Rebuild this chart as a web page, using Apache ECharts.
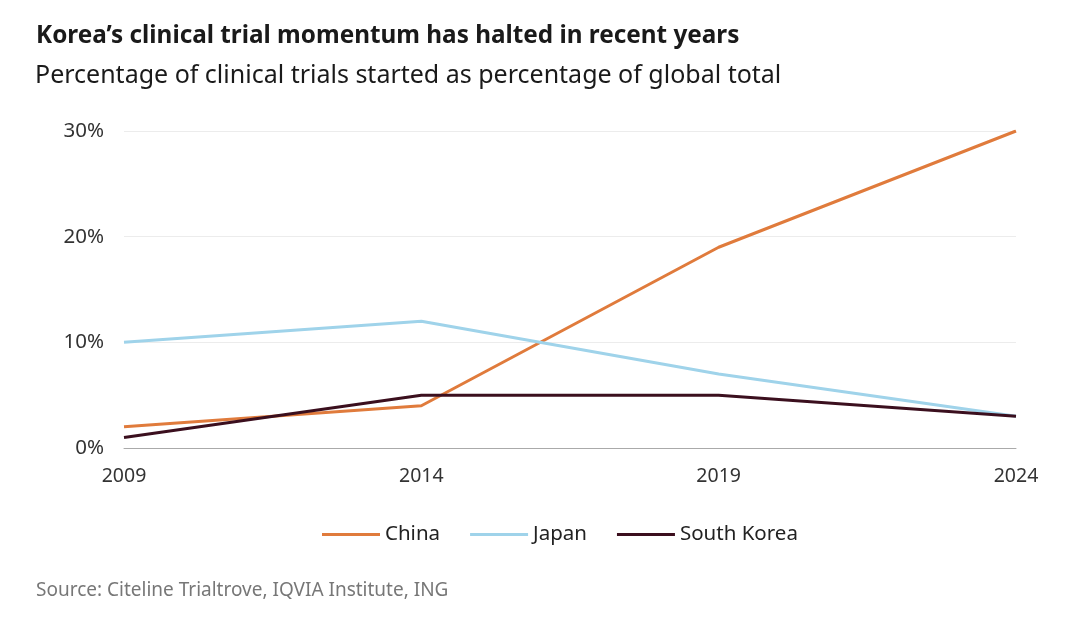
<!DOCTYPE html>
<html>
<head>
<meta charset="utf-8">
<script src="https://cdn.jsdelivr.net/npm/echarts@6/dist/echarts.min.js"></script>
<style>
html,body{margin:0;padding:0;background:#fff;}
#c{width:1080px;height:617px;}
</style>
</head>
<body>
<div id="c"></div>
<script>
const years = ['2009', '2014', '2019', '2024'];
const china = [2, 4, 19, 30];
const japan = [10, 12, 7, 3];
const southKorea = [1, 5, 5, 3];
const yTicks = [0, 10, 20, 30];

const FONT = '"Noto Sans", "Open Sans", sans-serif';
const chart = echarts.init(document.getElementById('c'));
chart.setOption({
  backgroundColor: '#fff',
  animation: false,
  title: [
    {text: 'Korea\u2019s clinical trial momentum has halted in recent years', left: 31, top: 19,
     textStyle: {fontFamily: FONT, fontSize: 24.3, fontWeight: 'bold', color: '#1a1a1a'}},
    {text: 'Percentage of clinical trials started as percentage of global total', left: 30, top: 58,
     textStyle: {fontFamily: FONT, fontSize: 25, fontWeight: 'normal', color: '#1a1a1a'}},
    {text: 'Source: Citeline Trialtrove, IQVIA Institute, ING', left: 31, top: 576,
     textStyle: {fontFamily: FONT, fontSize: 19, fontWeight: 'normal', color: '#777'}}
  ],
  grid: {left: 124, right: 64, top: 131, bottom: 169, containLabel: false},
  legend: {
    left: 317, top: 519,
    itemWidth: 58, itemHeight: 3, itemGap: 30, icon: 'rect',
    textStyle: {fontFamily: FONT, fontSize: 20.5, color: '#222'},
    data: ['China', 'Japan', 'South Korea']
  },
  xAxis: {
    type: 'category', data: years, boundaryGap: false,
    axisLine: {show: true, lineStyle: {color: '#aaa', width: 1}},
    axisTick: {show: false},
    axisLabel: {fontFamily: FONT, fontSize: 19.5, color: '#333', margin: 18}
  },
  yAxis: {
    type: 'value', min: 0, max: 30, interval: 10,
    axisLine: {show: false}, axisTick: {show: false},
    splitLine: {lineStyle: {color: '#ececec', width: 1}},
    axisLabel: {fontFamily: FONT, fontSize: 20.5, color: '#333', margin: 20,
      formatter: v => yTicks.includes(v) ? v + '%' : ''}
  },
  series: [
    {name: 'China', type: 'line', data: china, showSymbol: false, symbol: 'none',
     lineStyle: {color: '#e07b3c', width: 3}, itemStyle: {color: '#e07b3c'}},
    {name: 'Japan', type: 'line', data: japan, showSymbol: false, symbol: 'none',
     lineStyle: {color: '#9fd3ea', width: 3}, itemStyle: {color: '#9fd3ea'}},
    {name: 'South Korea', type: 'line', data: southKorea, showSymbol: false, symbol: 'none',
     lineStyle: {color: '#3b0f1e', width: 3}, itemStyle: {color: '#3b0f1e'}}
  ]
});
</script>
</body>
</html>
